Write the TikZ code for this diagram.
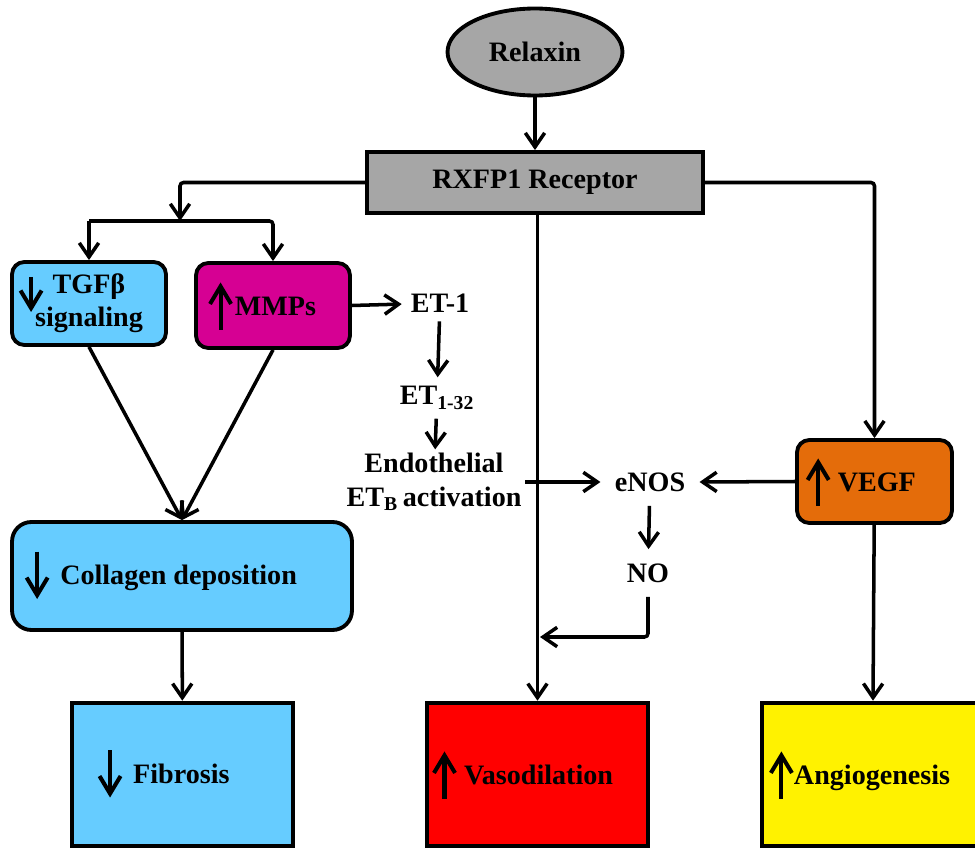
\documentclass[tikz,border=0pt]{standalone}
\usepackage{fontspec}
\setmainfont{Liberation Serif}
\definecolor{rxblue}{RGB}{102,204,255}
\definecolor{rxmagenta}{RGB}{214,0,147}
\definecolor{rxorange}{RGB}{228,108,10}
\definecolor{rxgray}{RGB}{166,166,166}
\usetikzlibrary{arrows.meta,shapes.geometric}
\newcommand{\arrdn}[1][5pt]{\tikz[baseline=-5.5pt]\draw[line width=2.3pt,-{Straight Barb[length=10pt,width=12pt]}] (0,13.5pt) -- (0,-13.5pt);\hspace{#1}}
\newcommand{\arrup}[1][5pt]{\tikz[baseline=-5.5pt]\draw[line width=2.3pt,-{Straight Barb[length=10pt,width=12pt]}] (0,-13.5pt) -- (0,13.5pt);\hspace{#1}}
\newcommand{\padr}[1]{\kern#1\relax}

\begin{document}
\begin{tikzpicture}[x=0.02cm, y=-0.02cm, every node/.style={font=\bfseries\fontsize{16}{19}\selectfont},
  bx/.style={draw, line width=2.2pt, rounded corners=7pt, align=center, inner sep=0pt},
  res/.style={draw, line width=2.6pt, minimum width=4.42cm, minimum height=2.86cm, inner sep=0pt},
  txt/.style={inner sep=5pt, align=center},
  ln/.style={line width=2pt, rounded corners=2pt, -{Straight Barb[length=8pt,width=11pt]}}]
\useasboundingbox (0,0) rectangle (975,848);
\node[ellipse, draw, line width=2.2pt, fill=rxgray, minimum width=3.5cm, minimum height=1.74cm] (relaxin) at (535,52) {Relaxin};
\node[draw, line width=2.2pt, fill=rxgray, minimum width=6.72cm, minimum height=1.22cm] (rec) at (535,182.5) {RXFP1 Receptor};
\node[bx, fill=rxblue, minimum width=3.08cm, minimum height=1.66cm] (tgf) at (89,303.5) {TGFβ\\signaling};
\node[bx, fill=rxmagenta, minimum width=3.08cm, minimum height=1.7cm] (mmp) at (273,305.5) {\arrup[1pt]MMPs\padr{0.44cm}};
\node[bx, fill=rxorange, minimum width=3.1cm, minimum height=1.66cm] (vegf) at (874.5,481.5) {\arrup[4pt]VEGF\padr{0.55cm}};
\node[bx, rounded corners=11pt, fill=rxblue, minimum width=6.8cm, minimum height=2.16cm] (col) at (182,576) {\arrdn[6pt]Collagen deposition\padr{0.85cm}};
\node[txt] (et1) at (440,303) {ET-1};
\node[txt] (et132) at (437,398) {ET\textsubscript{1-32}};
\node[txt, inner sep=2pt] (etb) at (434,482) {Endothelial\\ET\textsubscript{B}\,activation};
\node[txt, inner sep=8pt] (enos) at (650,482) {eNOS};
\node[txt, inner sep=8pt] (no) at (648,573) {NO};
\node[res, fill=rxblue] (fib) at (182.5,774.5) {\arrdn[6pt]Fibrosis\padr{0.76cm}};
\node[res, fill=red] (vas) at (537.5,774.5) {\arrup[4pt]Vasodilation\padr{0.6cm}};
\node[res, fill=yellow] (ang) at (872.5,774.5) {\arrup[0pt]Angiogenesis\padr{0.52cm}};
\draw[line width=2.3pt, -{Straight Barb[length=10pt,width=12pt]}] ([shift={(21,-26.5)}]tgf.west) -- ([shift={(21,8.5)}]tgf.west);
\coordinate (br) at (180,221);
\coordinate (nojoin) at (540,637);
\draw[ln] (relaxin) -- (rec);
\draw[ln] (rec.west) -| (br);
\draw[ln] (tgf.north |- br) -| (mmp.north);
\draw[ln] (tgf.north |- br) -- (tgf.north);
\draw[ln] (rec.east) -| (vegf.north);
\draw[ln] (vas.north |- rec.south) -- (vas.north);
\draw[ln] (mmp.east) -- (et1);
\draw[ln] (et1) -- (et132);
\draw[ln] (et132) -- (etb);
\draw[ln] (etb.east) -- (enos.west);
\draw[ln] (vegf.west) -- (enos.east);
\draw[ln] (enos) -- (no);
\draw[ln] (no.south) |- (nojoin);
\draw[ln] (tgf.south) -- (col.north);
\draw[ln] (mmp.south) -- (col.north);
\draw[ln] (col) -- (fib);
\draw[ln] (vegf) -- (ang);
\end{tikzpicture}
\end{document}
